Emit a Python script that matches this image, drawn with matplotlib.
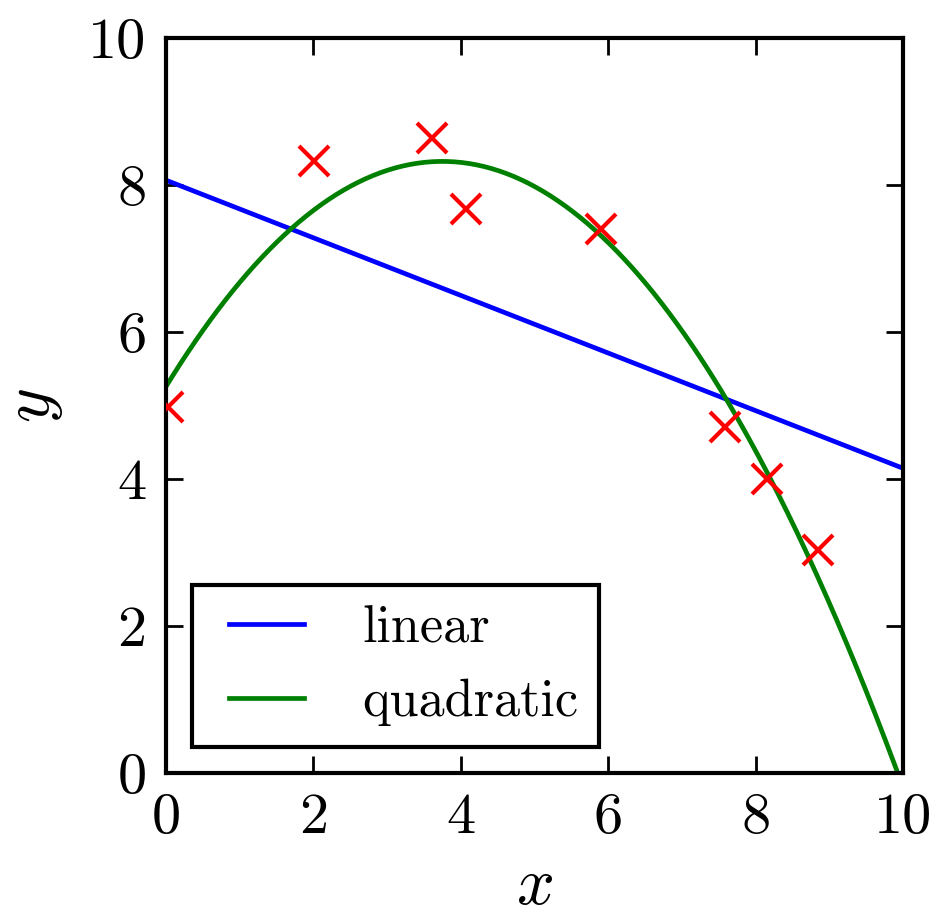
import matplotlib
matplotlib.use("Agg")
import matplotlib.pyplot as plt
import numpy as np

plt.rcParams['font.family'] = 'cmr10'
plt.rcParams['mathtext.fontset'] = 'cm'
plt.rcParams['axes.unicode_minus'] = False

# data points
x_data = [0.03, 2.01, 3.61, 4.07, 5.90, 7.58, 8.15, 8.85]
y_data = [4.98, 8.33, 8.64, 7.68, 7.40, 4.71, 4.00, 3.04]

ticks = [0, 2, 4, 6, 8, 10]
tick_labels = ["0", "2", "4", "6", "8", "10"]

# least squares fits of degree 1 and 2
p_lin = np.polyfit(x_data, y_data, 1)
p_quad = np.polyfit(x_data, y_data, 2)
xs = np.linspace(0, 10, 300)

fig = plt.figure(figsize=(4.665, 4.55), dpi=200)
ax = fig.add_axes([0.178, 0.1505, 0.79, 0.8075])

ax.plot(xs, np.polyval(p_lin, xs), color='blue', lw=1.7, label='linear')
ax.plot(xs, np.polyval(p_quad, xs), color='green', lw=1.7, label='quadratic')
ax.plot(x_data, y_data, 'x', color='red', ms=11, mew=1.5, zorder=3)

ax.set_xlim(0, 10)
ax.set_ylim(0, 10)
ax.set_xticks(ticks)
ax.set_yticks(ticks)
ax.set_xticklabels(tick_labels)
ax.set_yticklabels(tick_labels)
ax.tick_params(direction='in', length=6, width=1.0, pad=7, labelsize=21,
               top=True, right=True)
for s in ax.spines.values():
    s.set_linewidth(1.5)

ax.set_xlabel('$x$', fontsize=24, labelpad=5)
ax.set_ylabel('$y$', fontsize=24, labelpad=8.5)

# classic-style legend: two points per handle pads the line ends
leg = ax.legend(loc='lower left', fontsize=18.8, numpoints=2, handlelength=2.05,
                handletextpad=0.8, borderpad=0.4, borderaxespad=0.5,
                labelspacing=0.5, fancybox=False, framealpha=1)
leg.get_frame().set_edgecolor('black')
leg.get_frame().set_linewidth(1.5)

fig.savefig("out.png", dpi=200)
